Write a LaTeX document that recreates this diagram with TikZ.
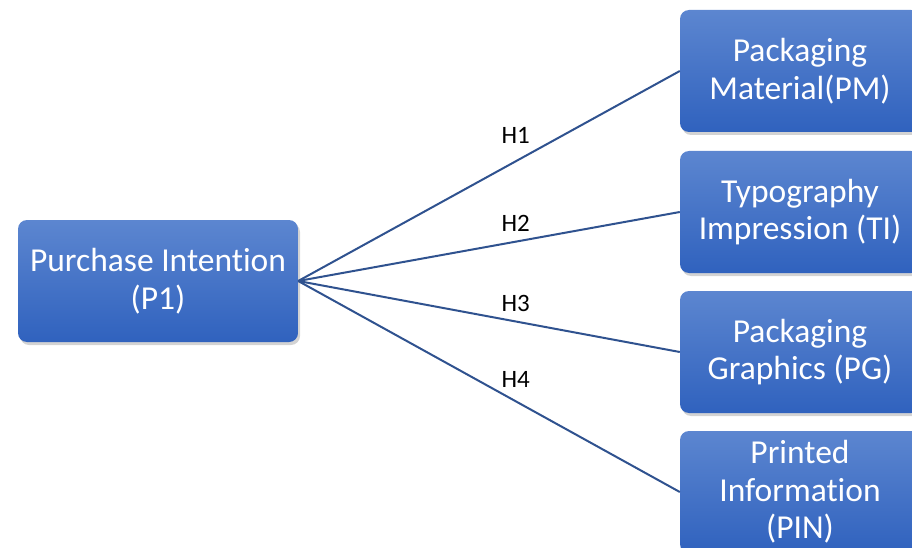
\documentclass[tikz,border=0pt]{standalone}
\usepackage{fontspec}
\setmainfont{Carlito}[Ligatures=NoCommon]
\usepackage{tikz}
\usetikzlibrary{
  positioning,
  shadows
}
\definecolor{boxtop}{RGB}{92,134,208}
\definecolor{boxbottom}{RGB}{48,98,190}
\definecolor{linkblue}{RGB}{47,82,143}

\begin{document}
\begin{tikzpicture}[x=1pt, y=-1pt,
    factor/.style={rounded corners=9pt, top color=boxtop, bottom color=boxbottom,
      minimum height=122pt, text=white, align=center,
      font=\fontsize{33.5}{37.5}\selectfont,
      drop shadow={opacity=0.35, shadow xshift=2pt, shadow yshift=-3pt}},
    link/.style={draw=linkblue, line width=2pt},
    hyp/.style={font=\fontsize{25}{28}\selectfont, text=black, pos=0.57}]
            \useasboundingbox (0,0) rectangle (912,548);

            % Dependent variable
            \node[factor, minimum width=280pt] (pi) at (158,281) {Purchase Intention\\(P1)};

            % Packaging factors
            \node[factor, minimum width=240pt] (pm) at (800,71) {Packaging\\Material(PM)};
            \node[factor, minimum width=240pt] (ti) at (800,212) {Typography\\Impression (TI)};
            \node[factor, minimum width=240pt] (pg) at (800,352) {Packaging\\Graphics (PG)};
            \node[factor, minimum width=240pt] (pin) at (800,492) {Printed\\Information\\(PIN)};

            % Hypotheses
            \draw[link] (pi.east) -- node[hyp, above=13pt] {H1} (pm.west);
            \draw[link] (pi.east) -- node[hyp, above=6pt] {H2} (ti.west);
            \draw[link] (pi.east) -- node[hyp, above=5pt] {H3} (pg.west);
            \draw[link] (pi.east) -- node[hyp, above=9pt] {H4} (pin.west);
        \end{tikzpicture}
\end{document}
